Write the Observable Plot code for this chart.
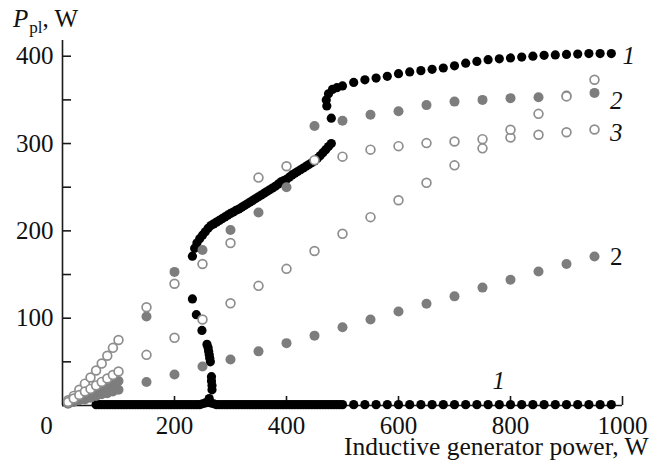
<!DOCTYPE html>
<html><head><meta charset="utf-8">
<script src="https://cdn.jsdelivr.net/npm/d3@7"></script>
<script src="https://cdn.jsdelivr.net/npm/@observablehq/plot@0.6"></script>
<style>body{margin:0;background:#fff} svg{display:block}</style>
</head><body><div id="chart"></div>
<script>
// ---- Axis ticks ----
const xTickValues = [200, 400, 600, 800, 1000];
const yTickValues = [0, 50, 100, 150, 200, 250, 300, 350, 400];
const yTickLabels = [100, 200, 300, 400];
const xTitle = "Inductive generator power, W";

// ---- Curve 1 (black filled) ----
// lower branch
const s1LowX = [
  60,65,70,75,80,85,90,95,100,105,
  110,115,120,125,130,135,140,145,150,155,
  160,165,170,175,180,185,190,195,200,205,
  210,215,220,225,230,235,240,245,250,255,
  260,265,270,275,280,285,290,295,300,305,
  310,315,320,325,330,335,340,345,350,355,
  360,365,370,375,380,385,390,395,400,405,
  410,415,420,425,430,435,440,445,450,455,
  460,465,470,475,480,485,490,495,500,
  520,540,560,580,600,620,640,660,680,700,
  720,740,760,780,800,820,840,860,880,900,
  920,940,960,980];
const s1LowY = [
  1,1,1,1,1,1,1,1,1,1,
  1,1,1,1,1,1,1,1,1,1,
  1,1,1,1,1,1,1,1,1,1,
  1,1,1,1,1,1,1,1,2,3,
  4,3,2,1,1,1,1,1,1,1,
  1,1,1,1,1,1,1,1,1,1,
  1,1,1,1,1,1,1,1,1,1,
  1,1,1,1,1,1,1,1,1,1,
  1,1,1,1,1,1,1,1,1,
  1,1,1,1,1,1,1,1,1,1,
  1,1,1,1,1,1,1,1,1,1,
  1,1,1,1];
// drop branch
const s1DropX = [232,239,249,258,260,261,262,263,264,266,266,267,267,262];
const s1DropY = [122,104,86,70,66,62,58,54,50,33,28,23,18,8];
// upper branch
const s1UpX = [
  232,236,240,245,250,255,260,265,270,275,280,285,290,295,300,305,310,315,320,325,
  330,335,340,345,350,355,360,365,370,375,380,385,390,395,400,405,410,415,420,425,
  430,435,440,445,450,455,460,465,470,475,480,
  480,472,471,475,482,490,500,520,540,560,580,600,620,640,660,680,700,720,740,760,
  780,800,820,840,860,880,900,920,940,960,980];
const s1UpY = [
  171,180,186,191,195,199,203,206,208,210,212,214,216,218,220,221.5,223.5,225,227,229,
  231,233,235,237,239,241,243,245,247,249,251,253.5,256,257.5,259,261.5,264,266,268,270,
  272,274,276,278,280,283,286,289.5,293,296.5,300,
  329,343,350,357,362,364,366,370,373,375,377,380,382,383.5,385,386.5,389,392,394,396,
  397,398,399,400,401,401.5,402,402.5,403,403,403];

// ---- Curve 2 (grey filled) ----
const s2UpX = [150,200,250,300,350,400,450,500,550,600,650,700,750,800,850,900,950];
const s2UpY = [102,153,178,201,221,250,320,326,333,337,344,348,350,352,353,355,358];
const s2LowX = [150,200,250,300,350,400,450,500,550,600,650,700,750,800,850,900,950];
const s2LowY = [27,35.5,44.6,52.7,62,71.4,80,89.7,98.5,107.7,116.5,125,135,144,153.5,162,170.7];
const s2OriginX = [10,20,30,40,50,60,70,80,90,100];
const s2OriginAY = [3,6,9,11,14,17,20,22,25,28];
const s2OriginBY = [2,4,6,7,9,11,13,14,16,18];

// ---- Curve 3 (open circles) ----
const s3SatX = [150,200,250,300,350,400,450,500,550,600,650,700,750,800,850,900,950];
const s3SatY = [112.6,139.4,162,186,261,274,281,285,293,297,300.5,302.4,305,307,310,313,316];
const s3RiseX = [150,200,250,300,350,400,450,500,550,600,650,700,750,800,850,900,950];
const s3RiseY = [58,77.5,98.5,117,137,156.5,177,196.6,215.7,235,255,275,294.5,315.8,334,354,373];
const s3OriginX = [10,20,30,40,50,60,70,80,90,100];
const s3OriginAY = [6,11,18,25,32,40,48,57,66,75];
const s3OriginBY = [4,8,12,16,19,23,27,31,35,39];

// ---- Curve labels ----
const curveLabels = ["1", "2", "3", "2", "1"];
const curveLabelX = [1011, 989, 989, 989, 779];
const curveLabelY = [400, 349, 312, 169.5, 27.5];
const curveLabelItalic = [true, true, true, false, true];

const pts = (xs, ys) => xs.map((x, i) => ({x, y: ys[i]}));
const FONT = "'Liberation Serif', 'Times New Roman', serif";
const FS = 25;
const AX = "#1a1a1a";
const GREY = "#7d7d7d";
const OPEN = "#8e8e8e";

const black = [...pts(s1LowX, s1LowY), ...pts(s1DropX, s1DropY), ...pts(s1UpX, s1UpY)];
const grey = [...pts(s2UpX, s2UpY), ...pts(s2LowX, s2LowY), ...pts(s2OriginX, s2OriginAY), ...pts(s2OriginX, s2OriginBY)];
const open = [...pts(s3SatX, s3SatY), ...pts(s3RiseX, s3RiseY), ...pts(s3OriginX, s3OriginAY), ...pts(s3OriginX, s3OriginBY)];
const labels = curveLabels.map((t, i) => ({t, x: curveLabelX[i], y: curveLabelY[i], it: curveLabelItalic[i]}));

const plot = Plot.plot({
  width: 661, height: 466,
  marginLeft: 62, marginRight: 39, marginTop: 40, marginBottom: 61,
  style: {fontFamily: FONT, fontSize: FS + "px", color: "#111", background: "#fff", overflow: "visible"},
  x: {domain: [0, 1000], axis: null},
  y: {domain: [0, 418], axis: null},
  marks: [
    Plot.ruleX([0], {stroke: AX, strokeWidth: 1.6}),
    Plot.ruleY([0], {stroke: AX, strokeWidth: 1.6}),
    Plot.tickY(yTickValues, {y: d => d, insetRight: 551, stroke: AX, strokeWidth: 1.6}),
    Plot.tickX(xTickValues, {x: d => d, insetTop: 356, stroke: AX, strokeWidth: 1.6}),
    Plot.axisY({ticks: yTickLabels, label: null, tickSize: 0, tickPadding: 9, tickFormat: d => String(d), fontSize: FS, fill: "#111"}),
    Plot.axisX({ticks: xTickValues, label: null, tickSize: 0, tickPadding: 11, tickFormat: d => String(d), fontSize: FS, fill: "#111"}),
    Plot.axisX({ticks: [0], label: null, tickSize: 0, tickPadding: 11, dx: -16, tickFormat: d => String(d), fontSize: FS, fill: "#111"}),
    Plot.text([xTitle], {frameAnchor: "bottom-right", dx: 26, dy: 41, textAnchor: "end", lineAnchor: "middle", fontSize: 25.5, fill: "#111"}),
    Plot.dot(black, {x: "x", y: "y", r: 4.6, fill: "#000", stroke: "none"}),
    Plot.dot(grey, {x: "x", y: "y", r: 5, fill: GREY, stroke: "none"}),
    Plot.dot(open, {x: "x", y: "y", r: 4.4, fill: "#fff", stroke: OPEN, strokeWidth: 1.7}),
    Plot.text(labels.filter(d => d.it), {x: "x", y: "y", text: "t", fontSize: FS, fontStyle: "italic", lineAnchor: "middle", fill: "#111"}),
    Plot.text(labels.filter(d => !d.it), {x: "x", y: "y", text: "t", fontSize: FS, lineAnchor: "middle", fill: "#111"})
  ]
});

// Y axis title: P_pl, W
const svg = d3.select(plot);
const t = svg.append("text")
  .attr("x", 13).attr("y", 27)
  .attr("text-anchor", "start")
  .attr("font-family", FONT).attr("font-size", FS).attr("fill", "#111");
t.append("tspan").attr("font-style", "italic").text("P");
t.append("tspan").attr("font-size", 17).attr("dy", 6).attr("dx", 1).text("pl");
t.append("tspan").attr("dy", -6).text(", W");

document.getElementById("chart").appendChild(plot);
</script>
</body></html>
